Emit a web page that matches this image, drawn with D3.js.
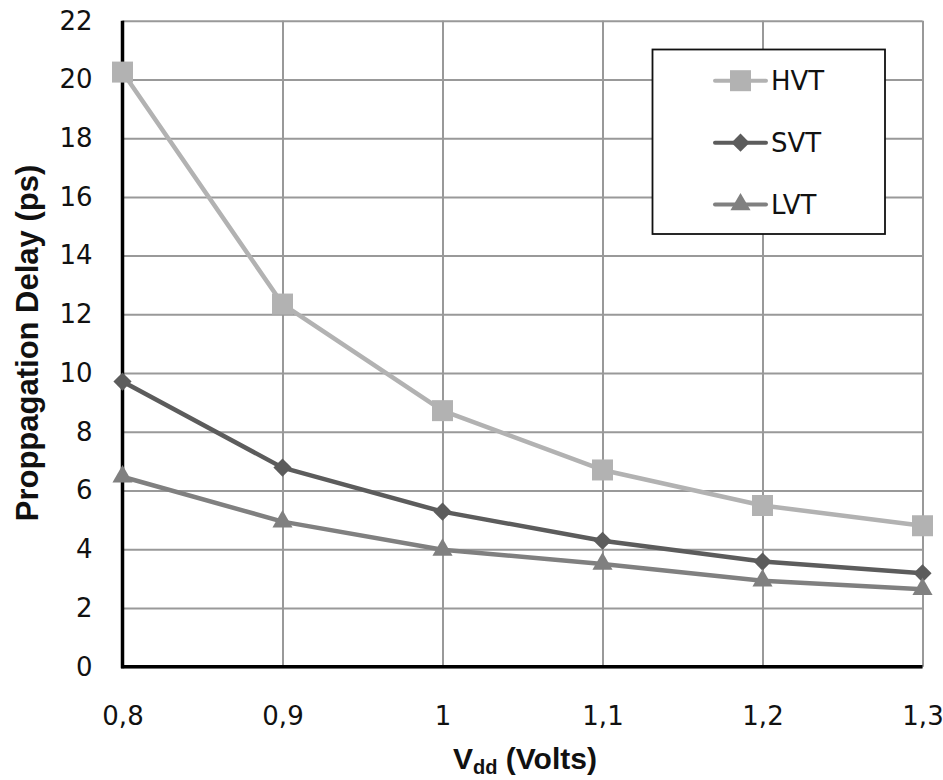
<!DOCTYPE html>
<html>
<head>
<meta charset="utf-8">
<script src="https://cdn.jsdelivr.net/npm/d3@7"></script>
<style>
  html, body { margin: 0; padding: 0; background: #fff; }
  svg { display: block; }
</style>
</head>
<body>
<div id="chart"></div>
<script>
// ---- data ----
const vddValues = [0.8, 0.9, 1.0, 1.1, 1.2, 1.3];
const xTickLabels = ["0,8", "0,9", "1", "1,1", "1,2", "1,3"];
const yTickValues = [0, 2, 4, 6, 8, 10, 12, 14, 16, 18, 20, 22];
const seriesNames = ["HVT", "SVT", "LVT"];
const hvtDelay = [20.25, 12.35, 8.72, 6.70, 5.49, 4.80];
const svtDelay = [9.71, 6.78, 5.28, 4.29, 3.58, 3.18];
const lvtDelay = [6.47, 4.94, 3.98, 3.50, 2.93, 2.64];

// ---- layout ----
const W = 943, H = 780;
const margin = { left: 122.5, right: 20.5, top: 20.7, bottom: 113.3 };
const x = d3.scaleLinear().domain([0.8, 1.3]).range([margin.left, W - margin.right]);
const y = d3.scaleLinear().domain([0, 22]).range([H - margin.bottom, margin.top]);

const svg = d3.select("#chart").append("svg").attr("width", W).attr("height", H);

const tickFont = "'DejaVu Sans', sans-serif";
const titleFont = "'Liberation Sans', Arial, sans-serif";

// gridlines via axes
const gridY = svg.append("g")
  .attr("transform", `translate(${margin.left},0)`)
  .call(d3.axisLeft(y).tickValues(yTickValues).tickSize(-(W - margin.left - margin.right)).tickFormat(""));
gridY.select(".domain").remove();
gridY.selectAll("line").attr("stroke", "#999").attr("stroke-width", 2);

const gridX = svg.append("g")
  .attr("transform", `translate(0,${H - margin.bottom})`)
  .call(d3.axisBottom(x).tickValues(vddValues).tickSize(-(H - margin.top - margin.bottom)).tickFormat(""));
gridX.select(".domain").remove();
gridX.selectAll("line").attr("stroke", "#999").attr("stroke-width", 2);

// tick labels
const yAxis = svg.append("g")
  .attr("transform", `translate(${margin.left},0)`)
  .call(d3.axisLeft(y).tickValues(yTickValues).tickSize(0).tickPadding(30).tickFormat(d3.format("d")));
yAxis.select(".domain").remove();
yAxis.selectAll("text").attr("font-family", tickFont).attr("font-size", 26).attr("fill", "#111");

const xAxis = svg.append("g")
  .attr("transform", `translate(0,${H - margin.bottom})`)
  .call(d3.axisBottom(x).tickValues(vddValues).tickSize(0).tickPadding(40)
    .tickFormat((d, i) => xTickLabels[i]));
xAxis.select(".domain").remove();
xAxis.selectAll("text").attr("font-family", tickFont).attr("font-size", 26).attr("fill", "#111");

// axis lines (black, thick)
svg.append("line")
  .attr("x1", x(0.8)).attr("x2", x(0.8))
  .attr("y1", y(22)).attr("y2", y(0) + 1.5)
  .attr("stroke", "#000").attr("stroke-width", 3.5);
svg.append("line")
  .attr("x1", x(0.8) - 1.5).attr("x2", x(1.3))
  .attr("y1", y(0)).attr("y2", y(0))
  .attr("stroke", "#000").attr("stroke-width", 3.5);

// series
const series = [
  { name: seriesNames[0], values: hvtDelay, color: "#b2b2b2", symbol: d3.symbolSquare, size: 441, rotate: 0 },
  { name: seriesNames[1], values: svtDelay, color: "#5c5c5c", symbol: d3.symbolSquare, size: 165, rotate: 45 },
  { name: seriesNames[2], values: lvtDelay, color: "#808080", symbol: d3.symbolTriangle, size: 175, rotate: 0 }
];

const line = d3.line().x((d, i) => x(vddValues[i])).y(d => y(d));

series.forEach(s => {
  svg.append("path")
    .datum(s.values)
    .attr("d", line)
    .attr("fill", "none")
    .attr("stroke", s.color)
    .attr("stroke-width", 4.5)
    .attr("stroke-linejoin", "round");
});
series.forEach(s => {
  svg.append("g").selectAll("path")
    .data(s.values)
    .join("path")
    .attr("d", d3.symbol().type(s.symbol).size(s.size))
    .attr("transform", (d, i) => `translate(${x(vddValues[i])},${y(d)}) rotate(${s.rotate})`)
    .attr("fill", s.color);
});

// axis titles
svg.append("text")
  .attr("transform", `translate(38,${(166 + 520) / 2}) rotate(-90)`)
  .attr("text-anchor", "middle")
  .attr("font-family", titleFont)
  .attr("font-weight", "bold")
  .attr("font-size", 31)
  .attr("fill", "#111")
  .text("Proppagation Delay (ps)");

const xt = svg.append("text")
  .attr("x", 525).attr("y", 769)
  .attr("text-anchor", "middle")
  .attr("font-family", titleFont)
  .attr("font-weight", "bold")
  .attr("font-size", 30)
  .attr("fill", "#111");
xt.append("tspan").text("V");
xt.append("tspan").attr("font-size", 20).attr("dy", 5).text("dd");
xt.append("tspan").attr("dy", -5).text(" (Volts)");

// legend
const legend = svg.append("g");
legend.append("rect")
  .attr("x", 652.5).attr("y", 49.5).attr("width", 232.5).attr("height", 184.5)
  .attr("fill", "#fff").attr("stroke", "#111").attr("stroke-width", 1.8);
const legendY = [80.7, 142.7, 204.5];
series.forEach((s, i) => {
  const g = legend.append("g").attr("transform", `translate(0,${legendY[i]})`);
  g.append("line").attr("x1", 715).attr("x2", 766).attr("y1", 0).attr("y2", 0)
    .attr("stroke", s.color).attr("stroke-width", 4).attr("stroke-linecap", "round");
  g.append("path").attr("d", d3.symbol().type(s.symbol).size(s.size))
    .attr("transform", `translate(740.5,0) rotate(${s.rotate})`).attr("fill", s.color);
  g.append("text").attr("x", 771).attr("y", 0).attr("dy", "0.36em")
    .attr("font-family", tickFont).attr("font-size", 26).attr("fill", "#111")
    .text(s.name);
});
</script>
</body>
</html>
